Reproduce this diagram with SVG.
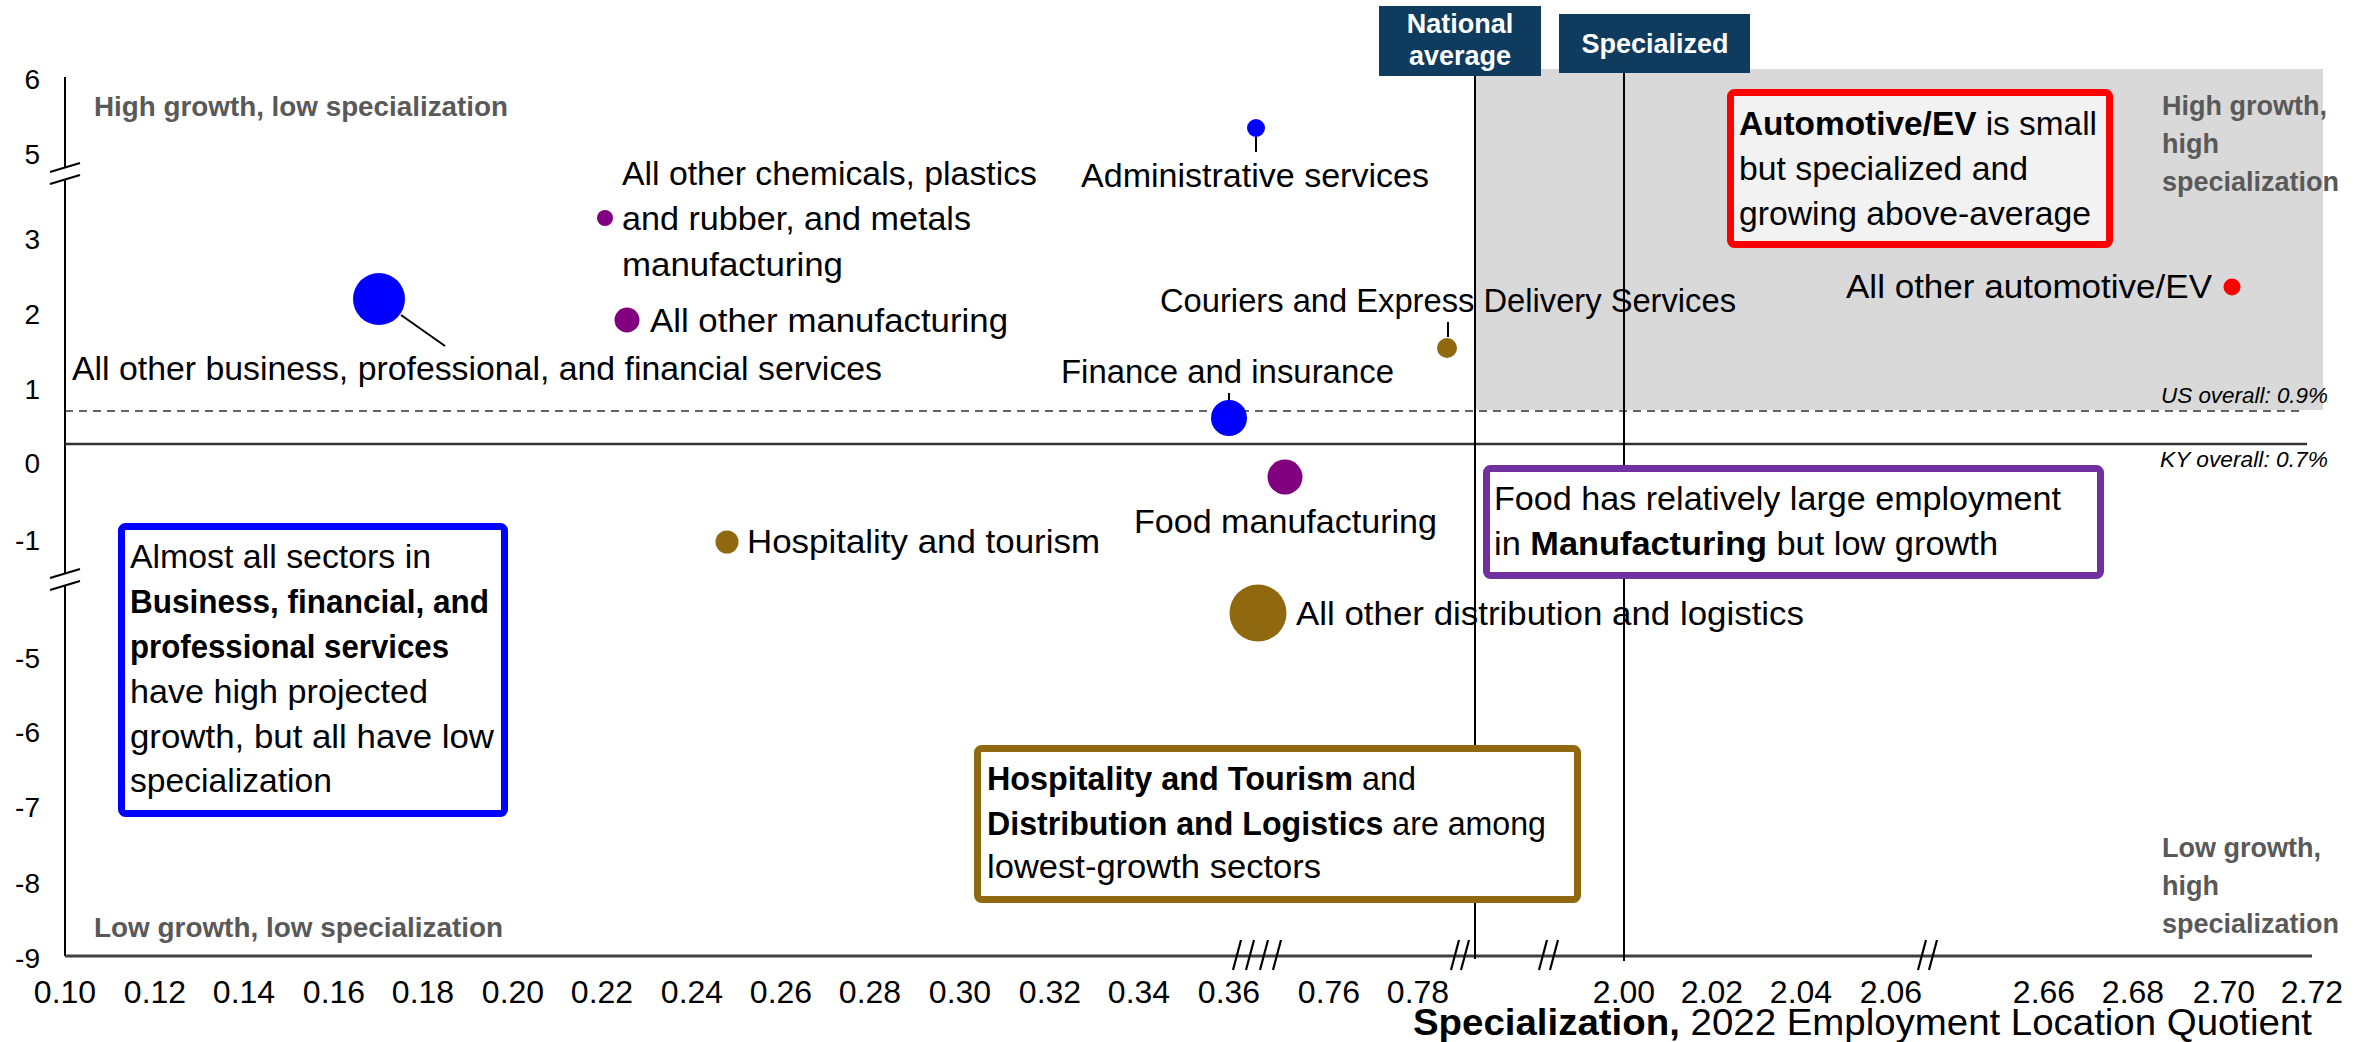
<svg xmlns="http://www.w3.org/2000/svg" width="2377" height="1042" viewBox="0 0 2377 1042">
<style>
text{font-family:"Liberation Sans",Arial,sans-serif;fill:#000}
.lbl{font-size:34px}
.box{font-size:34px}
.b{font-weight:bold}
.quad{font-size:27px;font-weight:bold;fill:#595959}
.ytick{font-size:28px;text-anchor:end}
.xtick{font-size:32px;text-anchor:middle}
.note{font-size:22px;font-style:italic}
.hdr{font-size:27px;font-weight:bold;fill:#fff;text-anchor:middle}
.ax{stroke:#000;stroke-width:2;fill:none}
.brk{stroke:#000;stroke-width:2.2;fill:none}
.lead{stroke:#000;stroke-width:2;fill:none}
.blue{fill:#0000ff}.purple{fill:#800080}.gold{fill:#8f6810}.red{fill:#ff0000}
</style>
<rect width="2377" height="1042" fill="#fff"/>
<g id="quadrant-shade"><rect x="1475" y="69" width="848" height="341" fill="#d9d9d9"/></g>
<g id="axes">
<line class="ax" x1="65" y1="77" x2="65" y2="168"/>
<line class="ax" x1="65" y1="179" x2="65" y2="573"/>
<line class="ax" x1="65" y1="585" x2="65" y2="956"/>
<path class="brk" d="M50 172 L80 163 M50 184 L80 175 M50 578 L80 569 M50 590 L80 581"/>
<line x1="65" y1="956" x2="2312" y2="956" stroke="#404040" stroke-width="3"/>
<path class="brk" d="M1233 970 L1241 940 M1246 970 L1254 940 M1260 970 L1268 940 M1273 970 L1281 940 M1451 970 L1459 940 M1461 970 L1469 940 M1539 970 L1547 940 M1550 970 L1558 940 M1918 970 L1926 940 M1929 970 L1937 940"/>
<line x1="65" y1="444" x2="2307" y2="444" stroke="#333" stroke-width="2.5"/>
<line x1="65" y1="411" x2="2303" y2="411" stroke="#333" stroke-width="1.5" stroke-dasharray="8 6"/>
<line class="ax" x1="1475" y1="76" x2="1475" y2="959"/>
<line class="ax" x1="1624" y1="73" x2="1624" y2="961"/>
</g>
<g id="y-ticks">
<text class="ytick" x="40" y="89">6</text>
<text class="ytick" x="40" y="164">5</text>
<text class="ytick" x="40" y="249">3</text>
<text class="ytick" x="40" y="324">2</text>
<text class="ytick" x="40" y="399">1</text>
<text class="ytick" x="40" y="473">0</text>
<text class="ytick" x="40" y="550">-1</text>
<text class="ytick" x="40" y="668">-5</text>
<text class="ytick" x="40" y="742">-6</text>
<text class="ytick" x="40" y="817">-7</text>
<text class="ytick" x="40" y="893">-8</text>
<text class="ytick" x="40" y="968">-9</text>
</g>
<g id="x-ticks">
<text class="xtick" x="65" y="1003">0.10</text>
<text class="xtick" x="155" y="1003">0.12</text>
<text class="xtick" x="244" y="1003">0.14</text>
<text class="xtick" x="334" y="1003">0.16</text>
<text class="xtick" x="423" y="1003">0.18</text>
<text class="xtick" x="513" y="1003">0.20</text>
<text class="xtick" x="602" y="1003">0.22</text>
<text class="xtick" x="692" y="1003">0.24</text>
<text class="xtick" x="781" y="1003">0.26</text>
<text class="xtick" x="870" y="1003">0.28</text>
<text class="xtick" x="960" y="1003">0.30</text>
<text class="xtick" x="1050" y="1003">0.32</text>
<text class="xtick" x="1139" y="1003">0.34</text>
<text class="xtick" x="1229" y="1003">0.36</text>
<text class="xtick" x="1329" y="1003">0.76</text>
<text class="xtick" x="1418" y="1003">0.78</text>
<text class="xtick" x="1624" y="1003">2.00</text>
<text class="xtick" x="1712" y="1003">2.02</text>
<text class="xtick" x="1801" y="1003">2.04</text>
<text class="xtick" x="1891" y="1003">2.06</text>
<text class="xtick" x="2044" y="1003">2.66</text>
<text class="xtick" x="2133" y="1003">2.68</text>
<text class="xtick" x="2224" y="1003">2.70</text>
<text class="xtick" x="2312" y="1003">2.72</text>
</g>
<g id="axis-title"><text x="1413" y="1035" font-size="36" textLength="899" lengthAdjust="spacingAndGlyphs"><tspan class="b">Specialization,</tspan> 2022 Employment Location Quotient</text></g>
<g id="quadrant-labels">
<text class="quad" x="94" y="116" textLength="414" lengthAdjust="spacingAndGlyphs">High growth, low specialization</text>
<text class="quad" x="94" y="937" textLength="409" lengthAdjust="spacingAndGlyphs">Low growth, low specialization</text>
<text class="quad" x="2162" y="115">High growth,</text>
<text class="quad" x="2162" y="153">high</text>
<text class="quad" x="2162" y="191">specialization</text>
<text class="quad" x="2162" y="857">Low growth,</text>
<text class="quad" x="2162" y="895">high</text>
<text class="quad" x="2162" y="933">specialization</text>
</g>
<g id="reference-notes">
<text class="note" x="2161" y="403" textLength="167" lengthAdjust="spacingAndGlyphs">US overall: 0.9%</text>
<text class="note" x="2160" y="467" textLength="168" lengthAdjust="spacingAndGlyphs">KY overall: 0.7%</text>
</g>
<g id="national-average">
<rect x="1379" y="6" width="162" height="70" fill="#0e3b5e"/>
<text class="hdr" x="1460" y="33">National</text>
<text class="hdr" x="1460" y="65">average</text>
</g>
<g id="specialized">
<rect x="1559" y="14" width="191" height="59" fill="#0e3b5e"/>
<text class="hdr" x="1655" y="53">Specialized</text>
</g>
<g id="connectors">
<line class="lead" x1="401" y1="315" x2="445" y2="346"/>
<line class="lead" x1="1256" y1="137" x2="1256" y2="152"/>
<line class="lead" x1="1448" y1="322" x2="1448" y2="337"/>
<line class="lead" x1="1229" y1="393" x2="1229" y2="404"/>
</g>
<g id="node-chemicals">
<circle class="purple" cx="605" cy="218" r="8"/>
<text class="lbl" x="622" y="185" textLength="415" lengthAdjust="spacingAndGlyphs">All other chemicals, plastics</text>
<text class="lbl" x="622" y="230" textLength="349" lengthAdjust="spacingAndGlyphs">and rubber, and metals</text>
<text class="lbl" x="622" y="276" textLength="221" lengthAdjust="spacingAndGlyphs">manufacturing</text>
</g>
<g id="node-other-manufacturing">
<circle class="purple" cx="627" cy="320" r="12.5"/>
<text class="lbl" x="650" y="332" textLength="358" lengthAdjust="spacingAndGlyphs">All other manufacturing</text>
</g>
<g id="node-business">
<circle class="blue" cx="379" cy="299" r="26"/>
<text class="lbl" x="72" y="380" textLength="810" lengthAdjust="spacingAndGlyphs">All other business, professional, and financial services</text>
</g>
<g id="node-administrative">
<circle class="blue" cx="1256" cy="128" r="9"/>
<text class="lbl" x="1081" y="187" textLength="348" lengthAdjust="spacingAndGlyphs">Administrative services</text>
</g>
<g id="node-couriers">
<circle class="gold" cx="1447" cy="348" r="10"/>
<text class="lbl" x="1160" y="312" textLength="576" lengthAdjust="spacingAndGlyphs">Couriers and Express Delivery Services</text>
</g>
<g id="node-finance">
<circle class="blue" cx="1229" cy="418" r="18"/>
<text class="lbl" x="1061" y="383" textLength="333" lengthAdjust="spacingAndGlyphs">Finance and insurance</text>
</g>
<g id="node-food">
<circle class="purple" cx="1285" cy="477" r="17.5"/>
<text class="lbl" x="1134" y="533" textLength="303" lengthAdjust="spacingAndGlyphs">Food manufacturing</text>
</g>
<g id="node-hospitality">
<circle class="gold" cx="727" cy="542" r="11.5"/>
<text class="lbl" x="747" y="553" textLength="353" lengthAdjust="spacingAndGlyphs">Hospitality and tourism</text>
</g>
<g id="node-distribution">
<circle class="gold" cx="1258" cy="613" r="28.5"/>
<text class="lbl" x="1296" y="625" textLength="508" lengthAdjust="spacingAndGlyphs">All other distribution and logistics</text>
</g>
<g id="node-automotive">
<circle class="red" cx="2232" cy="287" r="8.5"/>
<text class="lbl" x="1846" y="298" textLength="366" lengthAdjust="spacingAndGlyphs">All other automotive/EV</text>
</g>
<g id="callout-automotive">
<rect x="1730.5" y="92.5" width="379" height="152" rx="4" fill="#f2f2f2" stroke="#ff0000" stroke-width="7"/>
<text class="box" x="1739" y="135" textLength="358" lengthAdjust="spacingAndGlyphs"><tspan class="b">Automotive/EV</tspan> is small</text>
<text class="box" x="1739" y="180" textLength="289" lengthAdjust="spacingAndGlyphs">but specialized and</text>
<text class="box" x="1739" y="225" textLength="352" lengthAdjust="spacingAndGlyphs">growing above-average</text>
</g>
<g id="callout-business">
<rect x="121.5" y="526.5" width="383" height="287" rx="4" fill="#fff" stroke="#0000ff" stroke-width="7"/>
<text class="box" x="130" y="568" textLength="301" lengthAdjust="spacingAndGlyphs">Almost all sectors in</text>
<text class="box b" x="130" y="613" textLength="359" lengthAdjust="spacingAndGlyphs">Business, financial, and</text>
<text class="box b" x="130" y="658" textLength="319" lengthAdjust="spacingAndGlyphs">professional services</text>
<text class="box" x="130" y="703" textLength="298" lengthAdjust="spacingAndGlyphs">have high projected</text>
<text class="box" x="130" y="748" textLength="364" lengthAdjust="spacingAndGlyphs">growth, but all have low</text>
<text class="box" x="130" y="792" textLength="202" lengthAdjust="spacingAndGlyphs">specialization</text>
</g>
<g id="callout-food">
<rect x="1486.5" y="468.5" width="614" height="107" rx="4" fill="#fff" stroke="#7030a0" stroke-width="7"/>
<text class="box" x="1494" y="510" textLength="567" lengthAdjust="spacingAndGlyphs">Food has relatively large employment</text>
<text class="box" x="1494" y="555" textLength="504" lengthAdjust="spacingAndGlyphs">in <tspan class="b">Manufacturing</tspan> but low growth</text>
</g>
<g id="callout-hospitality">
<rect x="977.5" y="748.5" width="600" height="151" rx="4" fill="#fff" stroke="#8f6810" stroke-width="7"/>
<text class="box" x="987" y="790" textLength="429" lengthAdjust="spacingAndGlyphs"><tspan class="b">Hospitality and Tourism</tspan> and</text>
<text class="box" x="987" y="835" textLength="559" lengthAdjust="spacingAndGlyphs"><tspan class="b">Distribution and Logistics</tspan> are among</text>
<text class="box" x="987" y="878" textLength="334" lengthAdjust="spacingAndGlyphs">lowest-growth sectors</text>
</g>
</svg>
